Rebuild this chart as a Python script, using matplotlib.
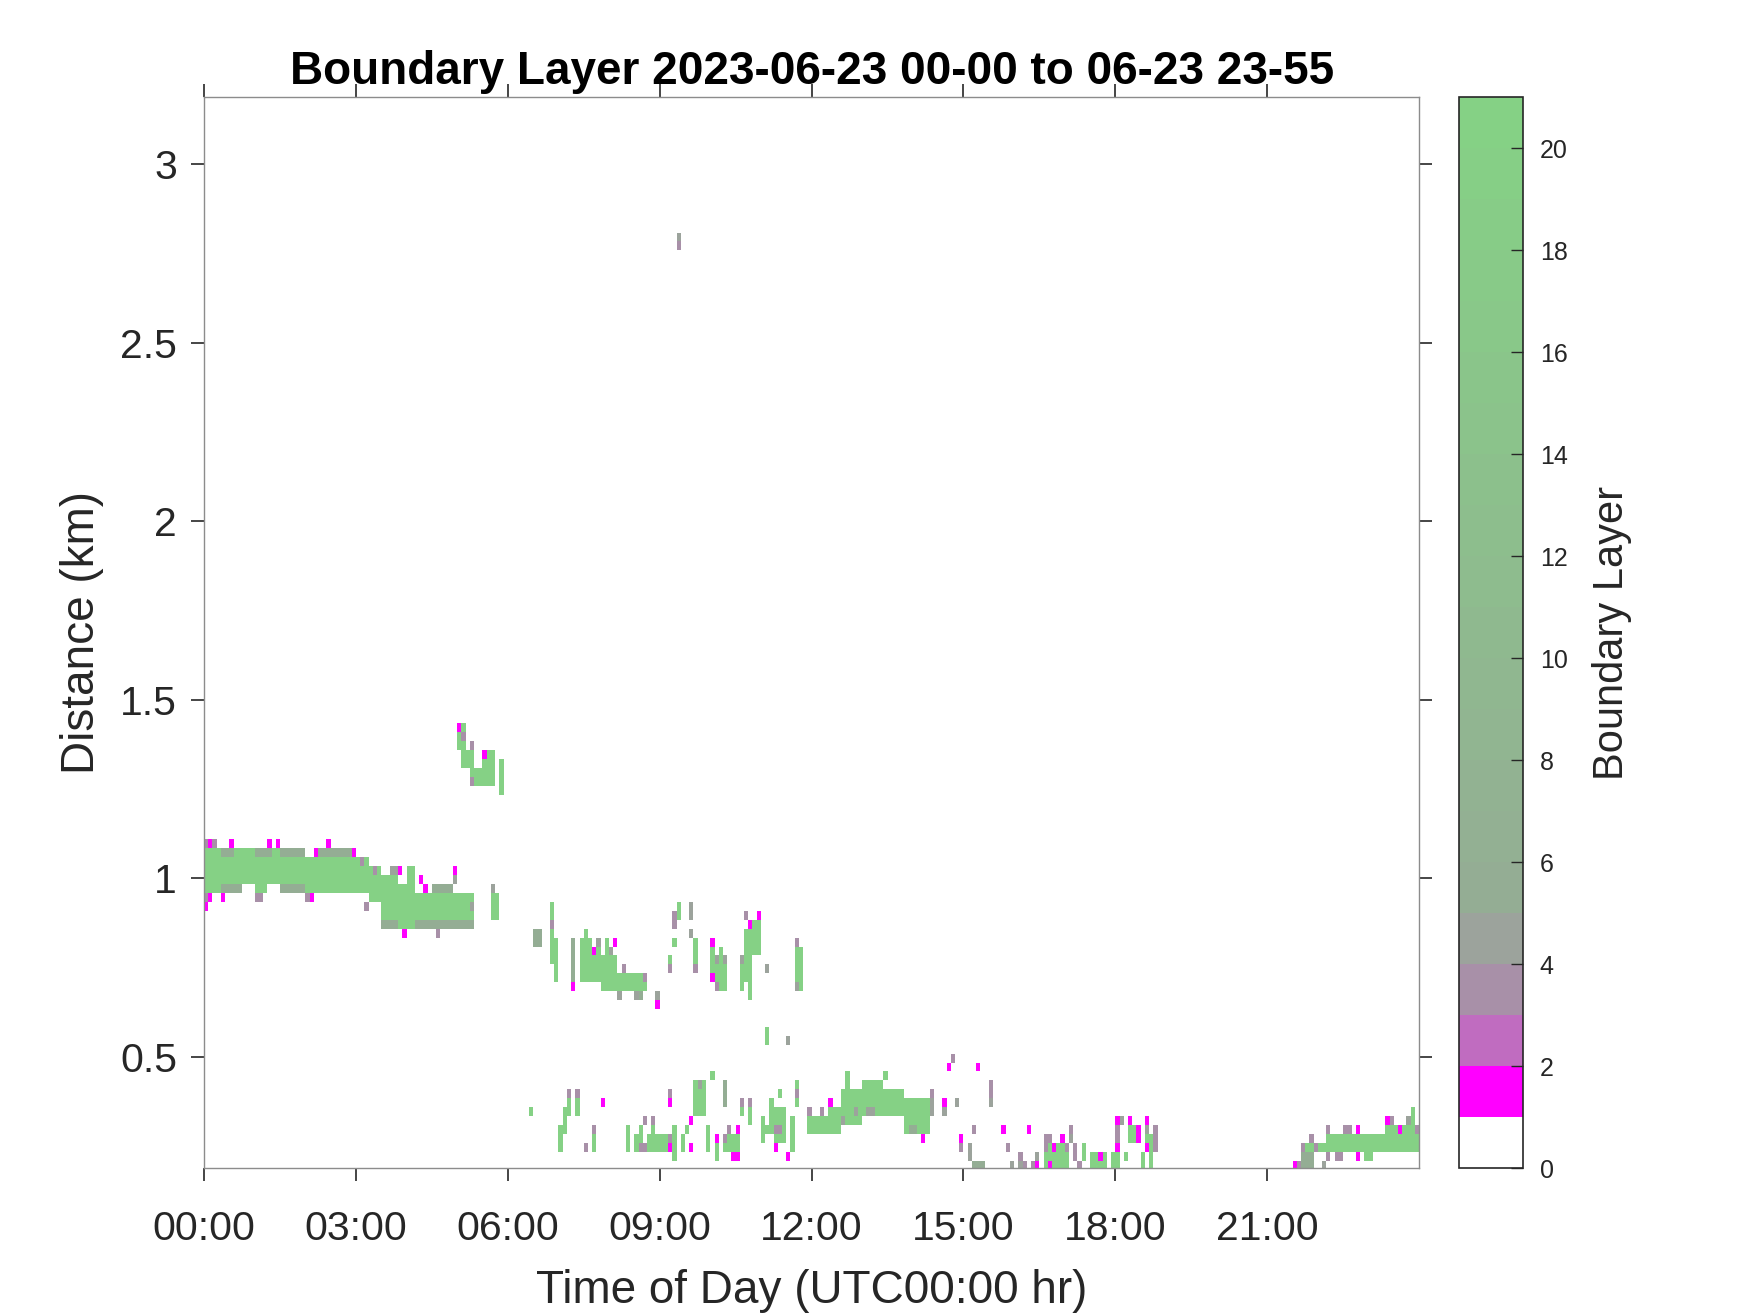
import numpy as np
import matplotlib
matplotlib.use('Agg')
import matplotlib.pyplot as plt
from matplotlib.colors import ListedColormap, BoundaryNorm

plt.rcParams['font.family'] = ['Liberation Sans', 'DejaVu Sans']

# time in hours, height in km
hour_ticks = [0, 3, 6, 9, 12, 15, 18, 21]
hour_labels = ['00:00', '03:00', '06:00', '09:00', '12:00', '15:00', '18:00', '21:00']
km_ticks = [0.5, 1, 1.5, 2, 2.5, 3]
km_labels = ['0.5', '1', '1.5', '2', '2.5', '3']
cbar_ticks = [0, 2, 4, 6, 8, 10, 12, 14, 16, 18, 20]

GREEN_VAL = 20
GRAY_VAL = 5.5

# (start hr, end hr, bottom km, top km)
green_blocks = [
    # ~1 km layer through the night
    (0.00, 1.96, 0.983, 1.083), (0.00, 0.33, 0.958, 0.983), (0.97, 1.24, 0.958, 0.983),
    (1.96, 3.21, 0.958, 1.058), (1.96, 2.16, 0.933, 0.958), (3.21, 3.48, 0.933, 1.033),
    (3.48, 3.87, 0.883, 1.008), (3.87, 4.14, 0.858, 0.983), (4.00, 4.14, 0.983, 1.033),
    (4.14, 5.32, 0.883, 0.958), (5.65, 5.85, 0.883, 0.958),
    # lifted patch near 1.3 km
    (5.00, 5.16, 1.358, 1.433), (5.08, 5.32, 1.308, 1.358), (5.25, 5.49, 1.258, 1.308),
    (5.49, 5.75, 1.258, 1.358), (5.83, 5.91, 1.233, 1.333),
    # morning strips 0.65-0.95 km
    (6.84, 6.92, 0.758, 0.933), (6.92, 7.00, 0.708, 0.833), (7.42, 7.66, 0.708, 0.833),
    (7.50, 7.57, 0.833, 0.858), (7.66, 7.82, 0.708, 0.808), (7.82, 8.17, 0.683, 0.783),
    (7.90, 7.99, 0.783, 0.833), (8.17, 8.75, 0.683, 0.733), (9.18, 9.24, 0.758, 0.783),
    (9.24, 9.33, 0.808, 0.833), (9.33, 9.41, 0.883, 0.933), (9.66, 9.74, 0.758, 0.833),
    (10.00, 10.08, 0.733, 0.808), (10.08, 10.16, 0.708, 0.783), (10.16, 10.25, 0.683, 0.808),
    (10.25, 10.33, 0.683, 0.758), (10.58, 10.69, 0.683, 0.758), (10.69, 10.78, 0.708, 0.858),
    (10.78, 10.86, 0.658, 0.858), (10.86, 10.99, 0.783, 0.883), (11.05, 11.13, 0.533, 0.583),
    (11.66, 11.81, 0.683, 0.808),
    # low daytime layer
    (6.43, 6.50, 0.333, 0.358), (7.00, 7.09, 0.233, 0.308), (7.09, 7.17, 0.283, 0.358),
    (7.17, 7.27, 0.333, 0.408), (7.33, 7.41, 0.333, 0.408), (7.66, 7.74, 0.233, 0.283),
    (8.34, 8.42, 0.233, 0.308), (8.48, 8.58, 0.233, 0.283), (8.58, 8.67, 0.258, 0.308),
    (8.75, 8.85, 0.233, 0.283), (8.85, 8.93, 0.233, 0.308), (8.93, 9.18, 0.233, 0.283),
    (9.25, 9.32, 0.208, 0.308), (9.41, 9.49, 0.233, 0.283), (9.51, 9.59, 0.283, 0.308),
    (9.67, 9.92, 0.333, 0.433), (9.92, 10.00, 0.233, 0.308), (10.00, 10.07, 0.433, 0.458),
    (10.08, 10.16, 0.208, 0.258), (10.25, 10.58, 0.233, 0.283), (10.58, 10.66, 0.333, 0.358),
    (10.74, 10.82, 0.308, 0.358), (10.99, 11.09, 0.258, 0.333), (11.09, 11.17, 0.283, 0.308),
    (11.17, 11.25, 0.283, 0.383), (11.25, 11.51, 0.258, 0.358), (11.33, 11.42, 0.383, 0.408),
    (11.58, 11.68, 0.233, 0.333), (11.68, 11.75, 0.358, 0.433), (11.90, 12.60, 0.283, 0.333),
    (12.30, 12.60, 0.333, 0.358), (12.60, 13.02, 0.308, 0.408), (12.68, 12.76, 0.408, 0.458),
    (13.02, 13.44, 0.333, 0.433), (13.44, 13.52, 0.433, 0.458), (13.44, 13.80, 0.333, 0.408),
    (13.80, 14.36, 0.283, 0.383),
    # afternoon, near ground
    (16.60, 16.90, 0.183, 0.258), (16.95, 17.05, 0.183, 0.258), (17.35, 17.42, 0.208, 0.258),
    (17.50, 17.84, 0.183, 0.233), (17.90, 18.05, 0.183, 0.233), (18.17, 18.25, 0.208, 0.233),
    (18.25, 18.38, 0.258, 0.308), (18.50, 18.60, 0.183, 0.233), (18.60, 18.67, 0.258, 0.283),
    (18.68, 18.78, 0.183, 0.283),
    # late evening
    (21.75, 21.92, 0.233, 0.258), (22.00, 22.15, 0.233, 0.258), (22.15, 23.35, 0.233, 0.283),
    (22.90, 23.10, 0.208, 0.233), (23.30, 24.00, 0.233, 0.308), (23.84, 23.92, 0.308, 0.358),
]

gray_blocks = [
    (0.33, 0.71, 0.958, 0.983), (1.50, 1.96, 0.958, 0.983), (0.33, 0.58, 1.058, 1.083),
    (0.97, 1.30, 1.058, 1.083), (1.50, 1.96, 1.058, 1.083), (2.16, 3.00, 1.058, 1.083),
    (3.48, 3.87, 0.858, 0.883), (4.14, 5.32, 0.858, 0.883), (4.53, 4.95, 0.958, 0.983),
    (6.51, 6.65, 0.808, 0.858), (7.25, 7.33, 0.708, 0.833), (8.48, 8.65, 0.658, 0.683),
    (10.25, 10.33, 0.358, 0.433), (13.90, 14.10, 0.283, 0.308), (15.20, 15.40, 0.183, 0.208),
    (21.67, 21.92, 0.183, 0.233),
]

# single cells (hr, km, value)
spots = [
    (0.04, 1.096, 3.5), (0.12, 1.096, 1.5), (0.21, 1.096, 3.5), (0.54, 1.096, 1.5),
    (1.25, 1.096, 1.5), (1.43, 1.096, 1.5), (2.43, 1.096, 1.5), (2.20, 1.071, 1.5),
    (2.95, 1.071, 1.5), (3.12, 1.046, 3.5), (0.04, 0.946, 3.5), (0.12, 0.946, 1.5),
    (0.37, 0.946, 1.5), (1.04, 0.946, 3.5), (1.12, 0.946, 3.5), (2.04, 0.946, 3.5),
    (2.12, 0.946, 1.5), (0.04, 0.921, 1.5), (3.37, 1.021, 3.5), (3.90, 1.021, 1.5),
    (3.79, 1.021, 4.5), (3.70, 1.021, 4.5), (3.92, 0.846, 1.5), (4.29, 0.996, 1.5),
    (4.37, 0.971, 1.5), (4.96, 1.021, 1.5), (4.96, 0.996, 4.5), (4.66, 0.846, 3.5),
    (3.21, 0.921, 3.5), (5.30, 0.921, 4.5), (5.74, 0.971, 4.5),
    (5.05, 1.421, 1.5), (5.13, 1.396, 3.5), (5.29, 1.371, 3.5), (5.54, 1.346, 1.5),
    (5.29, 1.271, 3.5),
    (6.88, 0.871, 3.5), (7.29, 0.696, 1.5), (7.70, 0.796, 1.5), (7.78, 0.821, 4.5),
    (8.03, 0.796, 4.5), (8.13, 0.821, 1.5), (8.20, 0.671, 4.5), (8.29, 0.746, 3.5),
    (8.71, 0.721, 3.5), (8.55, 0.671, 4.5), (8.93, 0.671, 4.5), (8.93, 0.646, 1.5),
    (9.21, 0.746, 3.5), (9.29, 0.896, 3.5), (9.29, 0.871, 3.5), (9.63, 0.921, 4.5),
    (9.63, 0.896, 4.5), (9.63, 0.846, 4.5), (9.71, 0.746, 3.5), (10.04, 0.821, 1.5),
    (10.04, 0.721, 1.5), (10.12, 0.771, 4.5), (10.12, 0.696, 3.5), (10.29, 0.771, 4.5),
    (10.63, 0.771, 4.5), (10.73, 0.896, 3.5), (10.82, 0.871, 1.5), (10.92, 0.896, 1.5),
    (11.12, 0.746, 4.5), (11.52, 0.546, 4.5), (11.70, 0.821, 3.5), (11.70, 0.696, 4.5),
    (9.37, 2.796, 4.5), (9.37, 2.771, 3.5),
    (7.22, 0.396, 3.5), (7.37, 0.396, 3.5), (7.54, 0.246, 3.5), (7.70, 0.296, 3.5),
    (7.86, 0.371, 1.5), (8.62, 0.246, 3.5), (8.71, 0.321, 3.5), (8.71, 0.246, 3.5),
    (8.89, 0.321, 3.5), (9.21, 0.396, 3.5), (9.21, 0.371, 1.5), (9.21, 0.271, 3.5),
    (9.21, 0.246, 1.5), (9.63, 0.321, 1.5), (9.63, 0.246, 1.5), (9.79, 0.421, 4.5),
    (10.12, 0.271, 1.5), (10.29, 0.271, 3.5), (10.37, 0.296, 3.5), (10.54, 0.296, 1.5),
    (10.46, 0.221, 1.5), (10.54, 0.221, 1.5), (10.62, 0.371, 3.5), (10.78, 0.371, 3.5),
    (11.29, 0.296, 3.5), (11.37, 0.296, 3.5), (11.29, 0.246, 1.5), (11.54, 0.221, 1.5),
    (11.71, 0.396, 3.5), (11.98, 0.346, 3.5), (12.21, 0.346, 3.5), (12.38, 0.371, 1.5),
    (12.65, 0.321, 4.5), (12.88, 0.346, 4.5), (13.12, 0.346, 4.5), (13.21, 0.346, 4.5),
    (14.21, 0.271, 1.5), (14.37, 0.396, 3.5), (14.37, 0.371, 4.5), (14.37, 0.346, 4.5),
    (14.62, 0.371, 1.5), (14.62, 0.346, 4.5), (14.87, 0.371, 4.5), (14.71, 0.471, 1.5),
    (14.79, 0.496, 3.5), (15.29, 0.471, 1.5), (15.54, 0.421, 3.5), (15.54, 0.396, 3.5),
    (15.54, 0.371, 4.5), (14.96, 0.271, 1.5), (14.96, 0.246, 3.5), (15.12, 0.246, 4.5),
    (15.12, 0.221, 4.5), (15.21, 0.296, 3.5),
    (15.79, 0.296, 1.5), (15.87, 0.246, 3.5), (15.96, 0.196, 4.5), (16.12, 0.221, 3.5),
    (16.12, 0.196, 4.5), (16.21, 0.196, 3.5), (16.29, 0.296, 1.5), (16.37, 0.196, 3.5),
    (16.46, 0.196, 1.5), (16.46, 0.221, 4.5), (16.62, 0.271, 3.5), (16.71, 0.271, 3.5),
    (16.62, 0.246, 3.5), (16.79, 0.246, 1.5), (16.71, 0.196, 1.5), (16.96, 0.271, 1.5),
    (17.04, 0.246, 3.5), (17.12, 0.296, 3.5), (17.12, 0.271, 4.5), (17.21, 0.246, 3.5),
    (17.21, 0.221, 3.5), (17.29, 0.196, 3.5), (17.71, 0.221, 1.5),
    (18.04, 0.321, 1.5), (18.12, 0.321, 4.5), (18.04, 0.296, 3.5), (18.04, 0.271, 3.5),
    (18.04, 0.246, 1.5), (18.29, 0.321, 1.5), (18.46, 0.296, 1.5), (18.46, 0.271, 1.5),
    (18.62, 0.321, 1.5), (18.62, 0.296, 4.5), (18.62, 0.246, 1.5), (18.79, 0.296, 3.5),
    (18.79, 0.271, 3.5), (18.79, 0.246, 3.5),
    (21.54, 0.196, 1.5), (21.62, 0.196, 3.5), (21.71, 0.246, 3.5), (21.87, 0.271, 3.5),
    (21.96, 0.246, 3.5), (22.12, 0.196, 4.5), (22.21, 0.296, 3.5), (22.21, 0.221, 3.5),
    (22.37, 0.221, 3.5), (22.46, 0.221, 3.5), (22.54, 0.296, 3.5), (22.62, 0.296, 3.5),
    (22.79, 0.296, 1.5), (22.79, 0.221, 1.5), (23.37, 0.321, 1.5), (23.46, 0.321, 3.5),
    (23.62, 0.296, 1.5), (23.79, 0.321, 4.5), (23.96, 0.296, 3.5),
]

# 5 minute x 25 m grid
t_edges = np.arange(0, 24 + 1e-6, 5 / 60)
z_edges = 0.1835 + 0.025 * np.arange(0, 122)
tc = (t_edges[:-1] + t_edges[1:]) / 2
zc = (z_edges[:-1] + z_edges[1:]) / 2
grid = np.zeros((len(zc), len(tc)))

for blocks, val in [(green_blocks, GREEN_VAL), (gray_blocks, GRAY_VAL)]:
    for t0, t1, z0, z1 in blocks:
        rows = (zc > z0) & (zc < z1)
        cols = (tc > t0) & (tc < t1)
        grid[np.ix_(rows, cols)] = val
for t, z, v in spots:
    grid[np.argmin(abs(zc - z)), np.argmin(abs(tc - t))] = v

# colormap: white, magenta, purples, then gray-green to green
greens = np.linspace([0.58, 0.68, 0.58], [0.52, 0.82, 0.52], 16)
cols = ['#ffffff', '#ff00ff', '#c06cc0', '#a890a8', '#9ca39c'] + [tuple(c) for c in greens]
cmap = ListedColormap(cols)
norm = BoundaryNorm(np.arange(0, 22), cmap.N)

fig = plt.figure(figsize=(17.5, 13.13), dpi=100)
ax = fig.add_axes([0.1166, 0.1104, 0.6943, 0.8157])
cax = fig.add_axes([0.8337, 0.1104, 0.0366, 0.8157])

mesh = ax.pcolormesh(t_edges, z_edges, grid, cmap=cmap, norm=norm,
                     shading='flat', antialiased=False, edgecolors='none')

ax.set_xlim(0, 24)
ax.set_ylim(0.188, 3.188)
ax.set_xticks(hour_ticks)
ax.set_xticklabels(hour_labels)
ax.set_yticks(km_ticks)
ax.set_yticklabels(km_labels)
ax.tick_params(direction='out', length=9.5, width=1.2, colors='#262626',
               labelsize=29.5, top=True, right=True, pad=10)
ax.tick_params(axis='x', pad=21)
for s in ax.spines.values():
    s.set_color('#8c8c8c')
    s.set_linewidth(1.0)

ax.set_xlabel('Time of Day (UTC00:00 hr)', fontsize=33, color='#262626')
ax.set_ylabel('Distance (km)', fontsize=33, color='#262626')
ax.xaxis.set_label_coords(0.5, -0.094)
ax.yaxis.set_label_coords(-0.082, 0.5)
ax.text(0.5, 1.012, 'Boundary Layer 2023-06-23 00-00 to 06-23 23-55', transform=ax.transAxes,
        ha='center', va='baseline', fontsize=33, fontweight='bold')

cb = fig.colorbar(mesh, cax=cax, ticks=cbar_ticks)
cb.minorticks_off()
cb.ax.tick_params(direction='in', length=9, width=1.0, labelsize=18, colors='#262626', pad=12)
cb.outline.set_edgecolor('#262626')
cb.outline.set_linewidth(1.2)
cb.set_label('Boundary Layer', fontsize=30, color='#262626')
cb.ax.yaxis.set_label_coords(2.07, 0.5)

fig.savefig('out.png', dpi=100)
